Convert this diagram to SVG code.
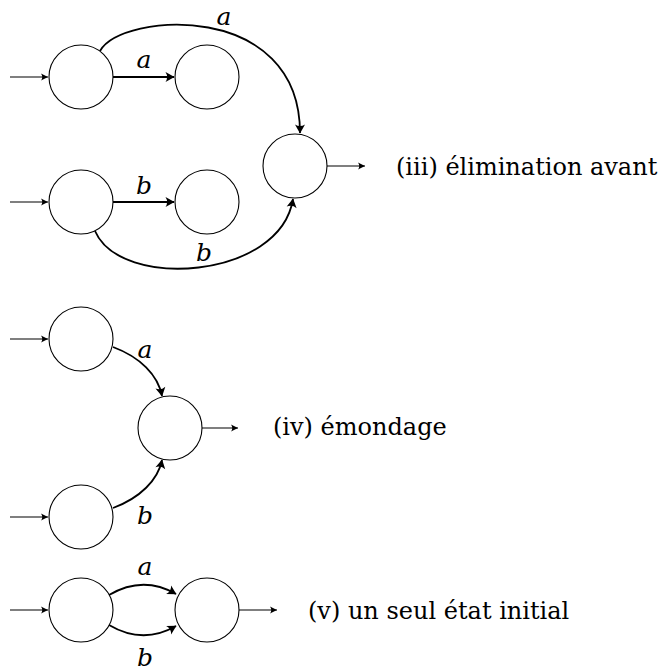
<svg xmlns="http://www.w3.org/2000/svg" width="664" height="671" viewBox="0 0 664 671">
<style>
.st{fill:#fff;stroke:#000;stroke-width:1.1}
.thin{fill:none;stroke:#000;stroke-width:1.1;marker-end:url(#ht)}
.bold{fill:none;stroke:#000;stroke-width:1.8;marker-end:url(#hb)}
.lbl{font-family:"DejaVu Serif","Liberation Serif",serif;font-style:italic;font-size:25px;fill:#000;text-anchor:middle}
.cap{font-family:"DejaVu Serif","Liberation Serif",serif;font-size:24px;fill:#000}
</style>
<defs>
<marker id="ht" markerUnits="userSpaceOnUse" orient="auto" markerWidth="12" markerHeight="12" viewBox="-8 -6 10 12" refX="0" refY="0" overflow="visible">
<path d="M0,0 L-7,-3.6 Q-4.5,0 -7,3.6 Z" fill="#000"/>
</marker>
<marker id="hb" markerUnits="userSpaceOnUse" orient="auto" markerWidth="14" markerHeight="14" viewBox="-10 -7 12 14" refX="0" refY="0" overflow="visible">
<path d="M0.5,0 L-8.5,-5 Q-5.3,0 -8.5,5 Z" fill="#000"/>
</marker>
</defs>
<g id="connectors">
<path class="thin" d="M10,77 L48,77"/>
<path class="thin" d="M10,202 L48,202"/>
<path class="bold" d="M113,77 L174,77"/>
<path class="bold" d="M113,202 L174,202"/>
<path class="bold" d="M100,51 C122,12 300,0 300,133"/>
<path class="bold" d="M95,231 C120,290 280,280 293,199"/>
<path class="thin" d="M327,166 L365,166"/>
<path class="thin" d="M10,339 L48,339"/>
<path class="thin" d="M10,517 L48,517"/>
<path class="bold" d="M113,347 C140,357 158,375 162,396"/>
<path class="bold" d="M113,508 C140,498 158,480 162,460"/>
<path class="thin" d="M202,428 L238,428"/>
<path class="thin" d="M10,610 L48,610"/>
<path class="bold" d="M109,595 Q143,575 176,594"/>
<path class="bold" d="M109,625 Q143,645 176,626"/>
<path class="thin" d="M239,610 L277,610"/>
<text class="lbl" x="144" y="68">a</text>
<text class="lbl" x="224" y="25">a</text>
<text class="lbl" x="144" y="194">b</text>
<text class="lbl" x="204" y="261">b</text>
<text class="lbl" x="145" y="358">a</text>
<text class="lbl" x="145" y="524">b</text>
<text class="lbl" x="145" y="575">a</text>
<text class="lbl" x="145" y="666">b</text>
</g>
<g id="n1"><circle class="st" cx="81" cy="77" r="32"/></g>
<g id="n2"><circle class="st" cx="207" cy="77" r="32"/></g>
<g id="n3"><circle class="st" cx="81" cy="202" r="32"/></g>
<g id="n4"><circle class="st" cx="207" cy="202" r="32"/></g>
<g id="n5"><circle class="st" cx="295" cy="166" r="32"/></g>
<g id="n6"><circle class="st" cx="81" cy="339" r="32"/></g>
<g id="n7"><circle class="st" cx="170" cy="428" r="32"/></g>
<g id="n8"><circle class="st" cx="81" cy="517" r="32"/></g>
<g id="n9"><circle class="st" cx="81" cy="610" r="32"/></g>
<g id="n10"><circle class="st" cx="207" cy="610" r="32"/></g>
<g id="captions">
<text class="cap" x="396" y="175">(iii) élimination avant</text>
<text class="cap" x="273" y="435">(iv) émondage</text>
<text class="cap" x="308" y="619">(v) un seul état initial</text>
</g>
</svg>
